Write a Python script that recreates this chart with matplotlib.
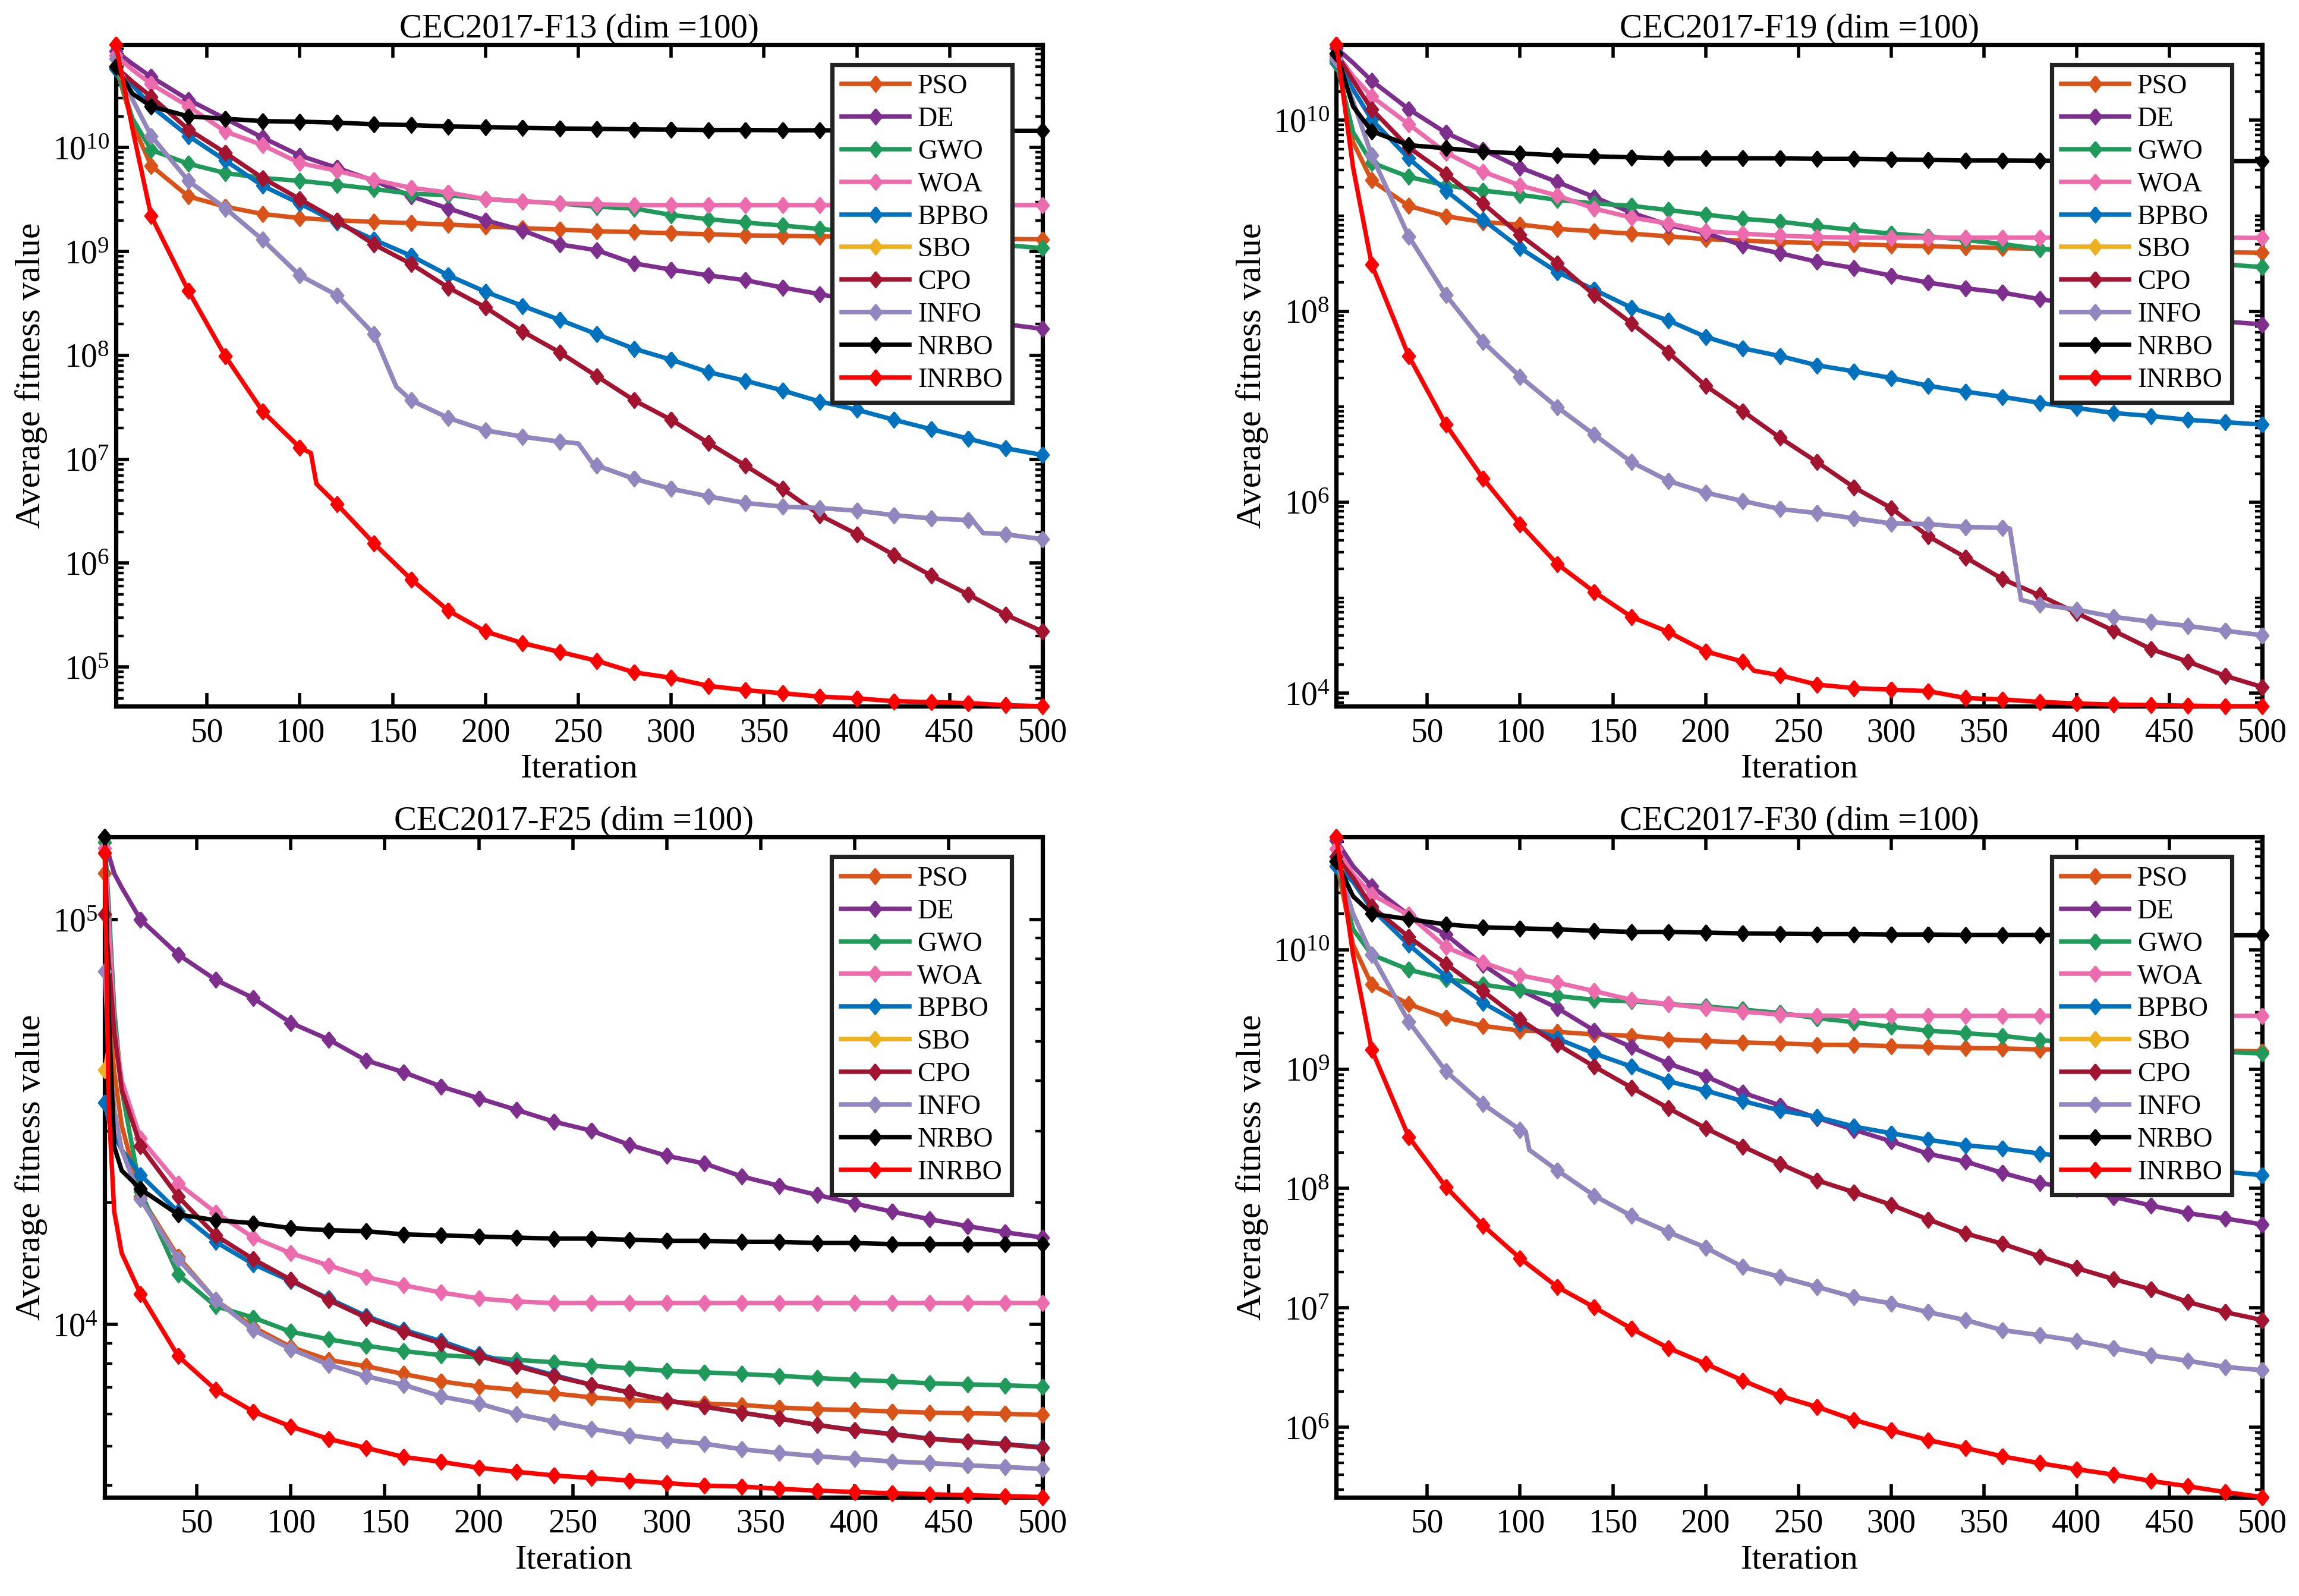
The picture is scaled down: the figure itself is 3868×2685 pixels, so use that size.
import numpy as np
import matplotlib.pyplot as plt
from matplotlib.ticker import FixedLocator, LogLocator, NullFormatter

plt.rcParams['font.family'] = ['Liberation Serif', 'DejaVu Serif']
plt.rcParams['mathtext.fontset'] = 'custom'
plt.rcParams['mathtext.rm'] = 'Liberation Serif'
plt.rcParams['mathtext.it'] = 'Liberation Serif:italic'
plt.rcParams['mathtext.bf'] = 'Liberation Serif:bold'

names = ["PSO", "DE", "GWO", "WOA", "BPBO", "SBO", "CPO", "INFO", "NRBO", "INRBO"]
colors = ["#D95319", "#7E2F8E", "#1F9A5B", "#EC6BAC", "#0072BD",
          "#EDB120", "#A2142F", "#9186C0", "#000000", "#FF0000"]

# iteration positions of the read values (markers sit at 1 and every 20)
iters = [1, 10] + list(range(20, 501, 20))
iters_f25 = [1, 3, 6, 10] + list(range(20, 501, 20))

# ---------------- CEC2017-F13 ----------------
f13_pso = [6.0e10, 1.7e10, 6.7e9, 3.4e9, 2.7e9, 2.3e9, 2.1e9, 2.0e9, 1.93e9, 1.88e9, 1.82e9, 1.75e9, 1.68e9,
           1.63e9, 1.57e9, 1.54e9, 1.5e9, 1.47e9, 1.43e9, 1.42e9, 1.4e9, 1.38e9, 1.36e9, 1.35e9, 1.33e9, 1.32e9, 1.31e9]
f13_de = [8.5e10, 6.4e10, 4.8e10, 2.9e10, 1.9e10, 1.25e10, 8.4e9, 6.4e9, 4.8e9, 3.4e9, 2.6e9, 2.0e9, 1.6e9,
          1.17e9, 1.03e9, 7.7e8, 6.7e8, 5.9e8, 5.3e8, 4.5e8, 3.9e8, 3.3e8, 2.9e8, 2.5e8, 2.2e8, 2.0e8, 1.8e8]
f13_gwo = [6.0e10, 1.9e10, 9.5e9, 7.0e9, 5.7e9, 5.1e9, 4.8e9, 4.4e9, 4.0e9, 3.6e9, 3.5e9, 3.2e9, 3.05e9,
           2.9e9, 2.7e9, 2.6e9, 2.25e9, 2.05e9, 1.9e9, 1.78e9, 1.65e9, 1.55e9, 1.43e9, 1.3e9, 1.22e9, 1.15e9, 1.08e9]
f13_woa = [7.7e10, 5.6e10, 4.1e10, 2.5e10, 1.43e10, 1.06e10, 7.1e9, 6.0e9, 4.9e9, 4.1e9, 3.7e9, 3.2e9, 3.05e9,
           2.9e9, 2.85e9, 2.8e9, 2.8e9, 2.8e9, 2.8e9, 2.8e9, 2.8e9, 2.8e9, 2.8e9, 2.8e9, 2.8e9, 2.8e9, 2.8e9]
f13_bpbo = [5.7e10, 4.0e10, 2.5e10, 1.3e10, 7.5e9, 4.3e9, 2.9e9, 1.9e9, 1.3e9, 9.1e8, 5.9e8, 4.1e8, 3.0e8,
            2.2e8, 1.6e8, 1.16e8, 9.1e7, 6.9e7, 5.7e7, 4.6e7, 3.6e7, 3.0e7, 2.4e7, 1.95e7, 1.58e7, 1.28e7, 1.1e7]
f13_sbo = [6.1e10, 2.9e10, 1.3e10, 4.8e9, 2.6e9, 1.3e9, 5.9e8, 3.8e8, 1.6e8, 3.7e7, 2.5e7, 1.9e7, 1.65e7,
           1.48e7, 8.7e6, 6.5e6, 5.2e6, 4.4e6, 3.8e6, 3.5e6, 3.4e6, 3.2e6, 2.9e6, 2.7e6, 2.6e6, 1.9e6, 1.7e6]
f13_cpo = [6.0e10, 4.3e10, 3.1e10, 1.5e10, 8.9e9, 5.1e9, 3.2e9, 2.0e9, 1.17e9, 7.6e8, 4.5e8, 2.9e8, 1.7e8,
           1.07e8, 6.3e7, 3.7e7, 2.4e7, 1.44e7, 8.7e6, 5.2e6, 2.9e6, 1.9e6, 1.2e6, 7.6e5, 5.0e5, 3.2e5, 2.2e5]
f13_info = [7.2e10, 2.9e10, 1.3e10, 4.8e9, 2.6e9, 1.3e9, 5.9e8, 3.8e8, 1.6e8, 3.7e7, 2.5e7, 1.9e7, 1.65e7,
            1.48e7, 8.7e6, 6.5e6, 5.2e6, 4.4e6, 3.8e6, 3.5e6, 3.4e6, 3.2e6, 2.9e6, 2.7e6, 2.6e6, 1.9e6, 1.7e6]
f13_nrbo = [6.0e10, 3.3e10, 2.5e10, 2.0e10, 1.9e10, 1.8e10, 1.78e10, 1.74e10, 1.68e10, 1.65e10, 1.6e10, 1.58e10,
            1.55e10, 1.53e10, 1.52e10, 1.5e10, 1.49e10, 1.48e10, 1.48e10, 1.47e10, 1.47e10, 1.46e10, 1.46e10,
            1.46e10, 1.45e10, 1.45e10, 1.45e10]
f13_inrbo = [9.8e10, 1.5e10, 2.2e9, 4.2e8, 9.8e7, 2.9e7, 1.3e7, 3.7e6, 1.55e6, 7.0e5, 3.5e5, 2.2e5, 1.7e5,
             1.4e5, 1.15e5, 8.9e4, 7.9e4, 6.6e4, 6.0e4, 5.6e4, 5.2e4, 5.0e4, 4.7e4, 4.6e4, 4.5e4, 4.3e4, 4.2e4]
f13_extra = {"INRBO": [(106, 1.15e7), (109, 5.8e6)],
             "INFO": [(152, 5.0e7), (250, 1.42e7), (257, 9.5e6), (463, 2.5e6), (468, 1.95e6)],
             "SBO": [(152, 5.0e7), (250, 1.42e7), (257, 9.5e6), (463, 2.5e6), (468, 1.95e6)]}

# ---------------- CEC2017-F19 ----------------
f19_pso = [4.7e10, 5.9e9, 2.35e9, 1.27e9, 9.9e8, 8.6e8, 8.1e8, 7.3e8, 6.9e8, 6.5e8, 6.1e8, 5.7e8, 5.5e8,
           5.3e8, 5.2e8, 5.06e8, 4.9e8, 4.8e8, 4.7e8, 4.6e8, 4.5e8, 4.4e8, 4.35e8, 4.3e8, 4.2e8, 4.15e8, 4.1e8]
f19_de = [5.7e10, 4.0e10, 2.6e10, 1.31e10, 7.4e9, 4.9e9, 3.2e9, 2.26e9, 1.57e9, 1.08e9, 8.0e8, 6.6e8, 4.9e8,
          4.06e8, 3.3e8, 2.84e8, 2.36e8, 2.0e8, 1.74e8, 1.57e8, 1.34e8, 1.19e8, 1.05e8, 9.4e7, 8.5e7, 7.8e7, 7.3e7]
f19_gwo = [4.0e10, 7.5e9, 3.6e9, 2.56e9, 2.08e9, 1.84e9, 1.66e9, 1.47e9, 1.35e9, 1.27e9, 1.15e9, 1.03e9, 9.3e8,
           8.7e8, 7.8e8, 7.1e8, 6.5e8, 6.1e8, 5.6e8, 5.06e8, 4.5e8, 4.2e8, 3.9e8, 3.6e8, 3.4e8, 3.1e8, 2.9e8]
f19_woa = [5.0e10, 2.9e10, 1.78e10, 9.1e9, 4.6e9, 2.9e9, 2.08e9, 1.63e9, 1.19e9, 9.6e8, 8.3e8, 6.9e8, 6.5e8,
           6.2e8, 6.0e8, 5.9e8, 5.9e8, 5.9e8, 5.9e8, 5.9e8, 5.9e8, 5.9e8, 5.9e8, 5.9e8, 5.9e8, 5.9e8, 5.86e8]
f19_bpbo = [4.2e10, 2.1e10, 1.02e10, 4.0e9, 1.84e9, 9.1e8, 4.6e8, 2.58e8, 1.68e8, 1.09e8, 8.0e7, 5.4e7, 4.1e7,
            3.4e7, 2.72e7, 2.35e7, 2.0e7, 1.66e7, 1.44e7, 1.27e7, 1.1e7, 9.7e6, 8.6e6, 8.0e6, 7.3e6, 6.9e6, 6.5e6]
f19_sbo = [4.4e10, 1.58e10, 4.3e9, 6.1e8, 1.48e8, 4.8e7, 2.07e7, 9.9e6, 5.1e6, 2.64e6, 1.67e6, 1.26e6, 1.03e6,
           8.5e5, 7.7e5, 6.8e5, 6.0e5, 5.9e5, 5.5e5, 5.4e5, 8.5e4, 7.5e4, 6.3e4, 5.6e4, 5.06e4, 4.5e4, 4.05e4]
f19_cpo = [5.0e10, 2.6e10, 1.31e10, 5.2e9, 2.75e9, 1.35e9, 6.3e8, 3.2e8, 1.48e8, 7.5e7, 3.7e7, 1.66e7, 9.0e6,
           4.75e6, 2.64e6, 1.43e6, 8.7e5, 4.4e5, 2.65e5, 1.57e5, 1.06e5, 6.9e4, 4.5e4, 2.9e4, 2.14e4, 1.52e4, 1.16e4]
f19_info = [4.5e10, 1.58e10, 4.3e9, 6.1e8, 1.48e8, 4.8e7, 2.07e7, 9.9e6, 5.1e6, 2.64e6, 1.67e6, 1.26e6, 1.03e6,
            8.5e5, 7.7e5, 6.8e5, 6.0e5, 5.9e5, 5.5e5, 5.4e5, 8.5e4, 7.5e4, 6.3e4, 5.6e4, 5.06e4, 4.5e4, 4.05e4]
f19_nrbo = [5.0e10, 1.4e10, 7.7e9, 5.5e9, 5.1e9, 4.7e9, 4.5e9, 4.3e9, 4.2e9, 4.1e9, 4.0e9, 4.0e9, 4.0e9, 4.0e9,
            3.95e9, 3.95e9, 3.9e9, 3.85e9, 3.8e9, 3.8e9, 3.78e9, 3.76e9, 3.76e9, 3.75e9, 3.75e9, 3.75e9, 3.75e9]
f19_inrbo = [6.2e10, 3.2e9, 3.1e8, 3.4e7, 6.5e6, 1.78e6, 5.9e5, 2.26e5, 1.15e5, 6.3e4, 4.37e4, 2.74e4, 2.14e4,
             1.54e4, 1.23e4, 1.13e4, 1.09e4, 1.05e4, 8.9e3, 8.6e3, 8.1e3, 7.8e3, 7.6e3, 7.5e3, 7.4e3, 7.3e3, 7.3e3]
f19_extra = {"INFO": [(364, 5.3e5), (370, 9.5e4)],
             "SBO": [(364, 5.3e5), (370, 9.5e4)],
             "INRBO": [(222, 2.1e4), (226, 1.72e4)]}

# ---------------- CEC2017-F25 ----------------
f25_pso = [1.3e5, 6.0e4, 4.2e4, 3.1e4, 2.07e4, 1.47e4, 1.15e4, 9.86e3, 8.8e3, 8.18e3, 7.89e3, 7.55e3, 7.24e3,
           7.03e3, 6.9e3, 6.76e3, 6.61e3, 6.51e3, 6.46e3, 6.38e3, 6.33e3, 6.24e3, 6.18e3, 6.15e3, 6.1e3, 6.06e3,
           6.04e3, 6.02e3, 5.98e3]
f25_de = [1.6e5, 1.45e5, 1.3e5, 1.2e5, 1.0e5, 8.2e4, 7.1e4, 6.4e4, 5.56e4, 5.06e4, 4.49e4, 4.2e4, 3.87e4,
          3.62e4, 3.39e4, 3.17e4, 3.01e4, 2.78e4, 2.61e4, 2.5e4, 2.32e4, 2.2e4, 2.09e4, 1.99e4, 1.9e4, 1.82e4,
          1.75e4, 1.69e4, 1.64e4]
f25_gwo = [1.55e5, 1.1e5, 6.0e4, 3.8e4, 2.13e4, 1.33e4, 1.11e4, 1.04e4, 9.6e3, 9.2e3, 8.87e3, 8.6e3, 8.4e3,
           8.3e3, 8.18e3, 8.07e3, 7.91e3, 7.8e3, 7.69e3, 7.62e3, 7.55e3, 7.47e3, 7.38e3, 7.3e3, 7.24e3, 7.16e3,
           7.12e3, 7.08e3, 7.03e3]
f25_woa = [1.5e5, 1.0e5, 5.5e4, 4.0e4, 2.88e4, 2.23e4, 1.89e4, 1.64e4, 1.5e4, 1.4e4, 1.31e4, 1.25e4, 1.2e4,
           1.16e4, 1.14e4, 1.13e4, 1.13e4, 1.13e4, 1.13e4, 1.13e4, 1.13e4, 1.13e4, 1.13e4, 1.13e4, 1.13e4,
           1.13e4, 1.13e4, 1.13e4, 1.13e4]
f25_bpbo = [3.53e4, 3.2e4, 2.95e4, 2.7e4, 2.34e4, 1.9e4, 1.6e4, 1.41e4, 1.28e4, 1.16e4, 1.05e4, 9.7e3, 9.1e3,
            8.45e3, 7.95e3, 7.5e3, 7.1e3, 6.8e3, 6.5e3, 6.27e3, 6.06e3, 5.86e3, 5.65e3, 5.49e3, 5.37e3, 5.23e3,
            5.15e3, 5.07e3, 4.98e3]
f25_sbo = [4.25e4, 4.8e4, 3.4e4, 2.7e4, 2.04e4, 1.45e4, 1.15e4, 9.7e3, 8.7e3, 7.96e3, 7.45e3, 7.1e3, 6.64e3,
           6.38e3, 6.01e3, 5.76e3, 5.53e3, 5.33e3, 5.18e3, 5.08e3, 4.92e3, 4.82e3, 4.73e3, 4.66e3, 4.59e3, 4.55e3,
           4.49e3, 4.45e3, 4.4e3]
f25_cpo = [1.03e5, 8.0e4, 5.3e4, 3.8e4, 2.76e4, 2.07e4, 1.66e4, 1.45e4, 1.29e4, 1.15e4, 1.04e4, 9.6e3, 8.98e3,
           8.36e3, 7.9e3, 7.45e3, 7.1e3, 6.8e3, 6.5e3, 6.27e3, 6.06e3, 5.86e3, 5.65e3, 5.48e3, 5.36e3, 5.22e3,
           5.14e3, 5.06e3, 4.96e3]
f25_info = [7.45e4, 4.8e4, 3.4e4, 2.7e4, 2.04e4, 1.45e4, 1.15e4, 9.7e3, 8.7e3, 7.96e3, 7.45e3, 7.1e3, 6.64e3,
            6.38e3, 6.01e3, 5.76e3, 5.53e3, 5.33e3, 5.18e3, 5.08e3, 4.92e3, 4.82e3, 4.73e3, 4.66e3, 4.59e3, 4.55e3,
            4.49e3, 4.45e3, 4.4e3]
f25_nrbo = [1.6e5, 6.0e4, 2.75e4, 2.4e4, 2.16e4, 1.87e4, 1.81e4, 1.78e4, 1.73e4, 1.71e4, 1.70e4, 1.67e4, 1.66e4,
            1.65e4, 1.64e4, 1.63e4, 1.63e4, 1.62e4, 1.61e4, 1.61e4, 1.6e4, 1.6e4, 1.59e4, 1.59e4, 1.58e4, 1.58e4,
            1.58e4, 1.58e4, 1.58e4]
f25_inrbo = [1.46e5, 3.5e4, 1.9e4, 1.5e4, 1.19e4, 8.36e3, 6.9e3, 6.1e3, 5.6e3, 5.22e3, 4.96e3, 4.71e3, 4.58e3,
             4.43e3, 4.33e3, 4.24e3, 4.18e3, 4.12e3, 4.06e3, 4.0e3, 3.98e3, 3.93e3, 3.89e3, 3.86e3, 3.83e3, 3.81e3,
             3.79e3, 3.77e3, 3.75e3]
f25_extra = {}

# ---------------- CEC2017-F30 ----------------
f30_pso = [5.5e10, 1.1e10, 5.1e9, 3.5e9, 2.7e9, 2.3e9, 2.1e9, 2.05e9, 1.95e9, 1.9e9, 1.77e9, 1.72e9, 1.67e9,
           1.64e9, 1.6e9, 1.59e9, 1.56e9, 1.53e9, 1.5e9, 1.49e9, 1.46e9, 1.44e9, 1.43e9, 1.42e9, 1.42e9, 1.42e9, 1.41e9]
f30_de = [8.2e10, 5.0e10, 3.4e10, 1.95e10, 1.34e10, 7.5e9, 4.6e9, 3.25e9, 2.1e9, 1.53e9, 1.11e9, 8.7e8, 6.35e8,
          4.97e8, 3.9e8, 3.1e8, 2.48e8, 1.95e8, 1.68e8, 1.35e8, 1.11e8, 9.9e7, 8.5e7, 7.2e7, 6.2e7, 5.6e7, 5.0e7]
f30_gwo = [5.5e10, 1.48e10, 9.1e9, 6.8e9, 5.7e9, 5.1e9, 4.6e9, 4.1e9, 3.8e9, 3.7e9, 3.5e9, 3.35e9, 3.15e9,
           2.95e9, 2.67e9, 2.47e9, 2.26e9, 2.1e9, 2.0e9, 1.9e9, 1.75e9, 1.64e9, 1.56e9, 1.49e9, 1.44e9, 1.39e9, 1.35e9]
f30_woa = [7.0e10, 4.3e10, 2.9e10, 1.95e10, 1.05e10, 7.8e9, 6.1e9, 5.3e9, 4.5e9, 3.8e9, 3.5e9, 3.25e9, 3.03e9,
           2.86e9, 2.8e9, 2.79e9, 2.79e9, 2.79e9, 2.79e9, 2.79e9, 2.79e9, 2.79e9, 2.79e9, 2.79e9, 2.79e9, 2.79e9, 2.79e9]
f30_bpbo = [5.0e10, 3.7e10, 2.2e10, 1.1e10, 6.0e9, 3.6e9, 2.4e9, 1.8e9, 1.35e9, 1.05e9, 7.9e8, 6.6e8, 5.4e8,
            4.5e8, 3.97e8, 3.3e8, 2.9e8, 2.56e8, 2.3e8, 2.16e8, 1.96e8, 1.82e8, 1.68e8, 1.57e8, 1.47e8, 1.38e8, 1.29e8]
f30_sbo = [5.5e10, 2.0e10, 9.1e9, 2.5e9, 9.6e8, 5.1e8, 3.1e8, 1.42e8, 8.7e7, 5.9e7, 4.3e7, 3.2e7, 2.2e7,
           1.82e7, 1.5e7, 1.23e7, 1.09e7, 9.2e6, 7.9e6, 6.5e6, 5.9e6, 5.3e6, 4.6e6, 4.0e6, 3.6e6, 3.2e6, 3.0e6]
f30_cpo = [6.0e10, 4.0e10, 2.3e10, 1.28e10, 7.6e9, 4.5e9, 2.6e9, 1.61e9, 1.05e9, 7.0e8, 4.7e8, 3.2e8, 2.25e8,
           1.61e8, 1.17e8, 9.3e7, 7.3e7, 5.5e7, 4.2e7, 3.44e7, 2.7e7, 2.15e7, 1.74e7, 1.43e7, 1.12e7, 9.2e6, 7.9e6]
f30_info = [5.5e10, 2.0e10, 9.1e9, 2.5e9, 9.6e8, 5.1e8, 3.1e8, 1.42e8, 8.7e7, 5.9e7, 4.3e7, 3.2e7, 2.2e7,
            1.82e7, 1.5e7, 1.23e7, 1.09e7, 9.2e6, 7.9e6, 6.5e6, 5.9e6, 5.3e6, 4.6e6, 4.0e6, 3.6e6, 3.2e6, 3.0e6]
f30_nrbo = [5.5e10, 2.8e10, 2.0e10, 1.8e10, 1.63e10, 1.54e10, 1.51e10, 1.48e10, 1.44e10, 1.41e10, 1.41e10,
            1.39e10, 1.37e10, 1.36e10, 1.35e10, 1.35e10, 1.34e10, 1.34e10, 1.33e10, 1.33e10, 1.33e10, 1.32e10,
            1.32e10, 1.32e10, 1.32e10, 1.32e10, 1.32e10]
f30_inrbo = [8.8e10, 9.0e9, 1.46e9, 2.7e8, 1.03e8, 4.9e7, 2.6e7, 1.5e7, 1.01e7, 6.7e6, 4.6e6, 3.4e6, 2.46e6,
             1.83e6, 1.48e6, 1.15e6, 9.4e5, 7.8e5, 6.7e5, 5.7e5, 5.0e5, 4.45e5, 4.0e5, 3.55e5, 3.2e5, 2.86e5, 2.6e5]
f30_extra = {"INFO": [(103, 3.0e8), (105, 2.1e8)],
             "SBO": [(103, 3.0e8), (105, 2.1e8)]}

diamond = [(0, 1), (0.8, 0), (0, -1), (-0.8, 0), (0, 1)]


def draw_panel(ax, title, x, series, extra, yticks):
    lo, hi = 1e30, 0
    for name, col, y in zip(names, colors, series):
        xx = list(x)
        yy = list(y)
        for a, b in extra.get(name, []):
            xx.append(a)
            yy.append(b)
        order = np.argsort(xx)
        xx = np.array(xx)[order]
        yy = np.array(yy)[order]
        mk = [i for i, v in enumerate(xx) if v == 1 or v % 20 == 0]
        ax.plot(xx, yy, color=col, lw=2.7, marker=diamond, ms=9.5, markevery=mk,
                label=name, clip_on=False, zorder=3)
        lo = min(lo, yy.min())
        hi = max(hi, yy.max())

    ax.set_yscale('log')
    ax.set_xlim(1, 500)
    ax.set_ylim(lo, hi)
    ax.set_xticks(range(50, 501, 50))
    ax.yaxis.set_major_locator(FixedLocator(yticks))
    ax.yaxis.set_minor_locator(LogLocator(base=10, subs=np.arange(1, 10), numticks=100))
    ax.yaxis.set_minor_formatter(NullFormatter())
    ax.tick_params(which='both', direction='in', top=True, right=True, labelsize=20)
    ax.tick_params(which='major', length=8, width=2)
    ax.tick_params(which='minor', length=4.5, width=1.6)
    ax.tick_params(axis='x', pad=7)
    ax.tick_params(axis='y', pad=4)
    for s in ax.spines.values():
        s.set_linewidth(2.6)

    ax.set_title(title, fontsize=20.5, pad=4)
    ax.set_xlabel("Iteration", fontsize=21, labelpad=3)
    ax.set_ylabel("Average fitness value", fontsize=21.5, labelpad=3)

    leg = ax.legend(loc='upper right', bbox_to_anchor=(0.967, 0.97), borderaxespad=0,
                    fontsize=16.5, fancybox=False, framealpha=1, edgecolor='#222222',
                    handlelength=2.5, labelspacing=0.27, borderpad=0.35, handletextpad=0.3)
    leg.get_frame().set_linewidth(2.6)
    leg.set_zorder(10)


fig = plt.figure(figsize=(19.34, 13.425), dpi=200)

ax1 = fig.add_axes([0.0504, 0.5575, 0.4031, 0.4145])
ax2 = fig.add_axes([0.5813, 0.5575, 0.4027, 0.4145])
ax3 = fig.add_axes([0.0456, 0.062, 0.4079, 0.4136])
ax4 = fig.add_axes([0.5813, 0.062, 0.4027, 0.4136])

draw_panel(ax1, "CEC2017-F13 (dim =100)", iters,
           [f13_pso, f13_de, f13_gwo, f13_woa, f13_bpbo, f13_sbo, f13_cpo, f13_info, f13_nrbo, f13_inrbo],
           f13_extra, [1e5, 1e6, 1e7, 1e8, 1e9, 1e10])
draw_panel(ax2, "CEC2017-F19 (dim =100)", iters,
           [f19_pso, f19_de, f19_gwo, f19_woa, f19_bpbo, f19_sbo, f19_cpo, f19_info, f19_nrbo, f19_inrbo],
           f19_extra, [1e4, 1e6, 1e8, 1e10])
draw_panel(ax3, "CEC2017-F25 (dim =100)", iters_f25,
           [f25_pso, f25_de, f25_gwo, f25_woa, f25_bpbo, f25_sbo, f25_cpo, f25_info, f25_nrbo, f25_inrbo],
           f25_extra, [1e4, 1e5])
draw_panel(ax4, "CEC2017-F30 (dim =100)", iters,
           [f30_pso, f30_de, f30_gwo, f30_woa, f30_bpbo, f30_sbo, f30_cpo, f30_info, f30_nrbo, f30_inrbo],
           f30_extra, [1e6, 1e7, 1e8, 1e9, 1e10])

fig.savefig("out.png", dpi=200)
